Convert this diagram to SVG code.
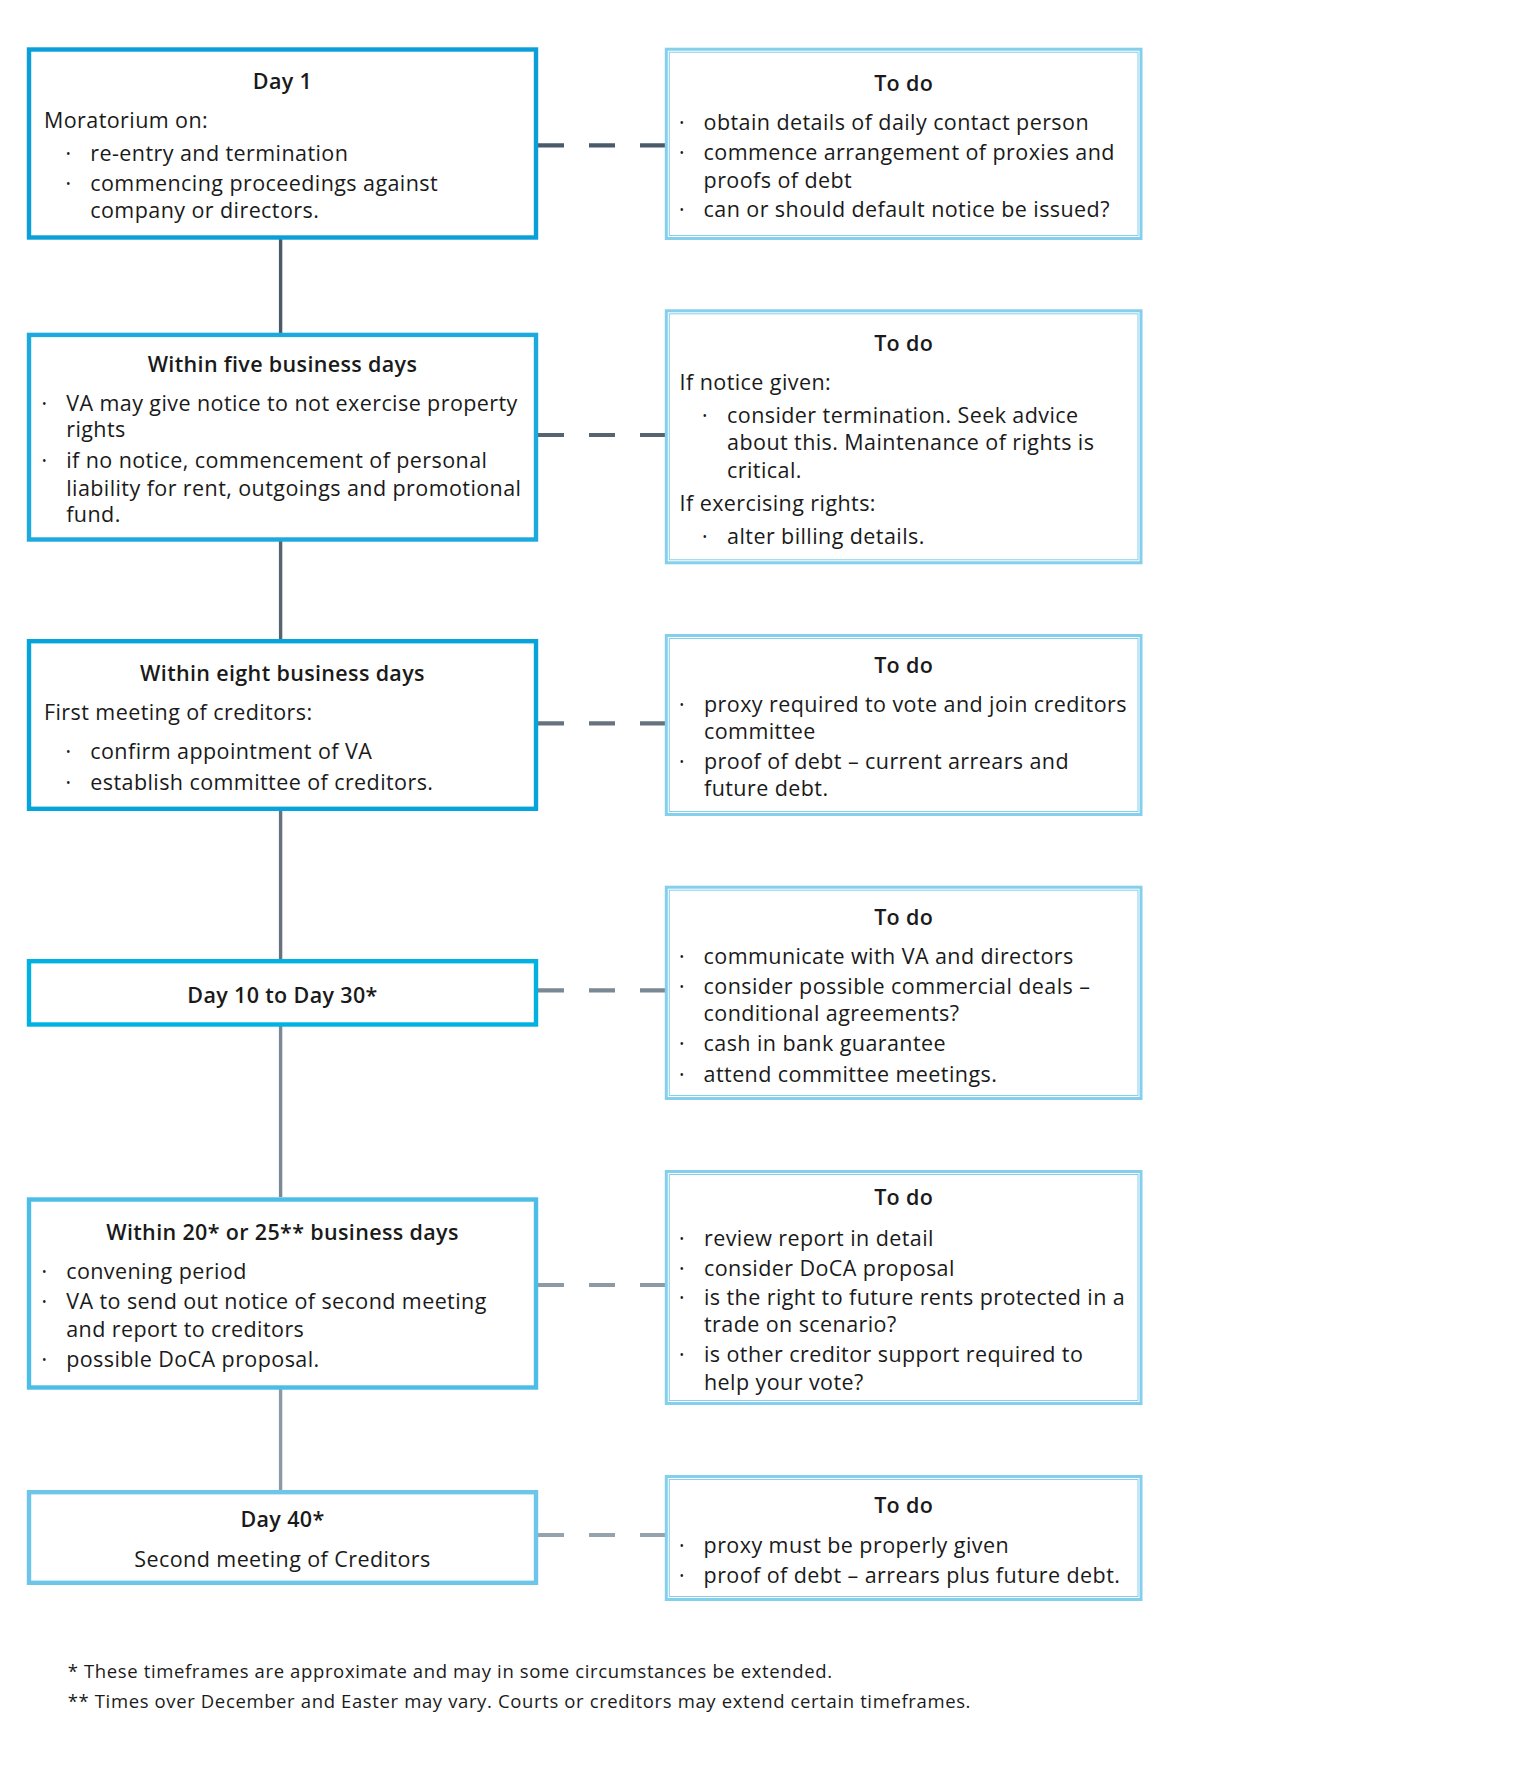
<svg xmlns="http://www.w3.org/2000/svg" width="1535" height="1772" viewBox="0 0 1535 1772">
<style>
text{font-family:"Open Sans","Liberation Sans",sans-serif;fill:#1a1a1a;font-size:21.5px;letter-spacing:0.42px}
.t{font-weight:600;text-anchor:middle;letter-spacing:0.35px}
.b{font-size:12px;letter-spacing:0}
.fn{font-size:18.5px;letter-spacing:0.63px}
.todo-o{fill:#fff;stroke:#84cfec;stroke-width:3}
.todo-i{fill:none;stroke:#84cfec;stroke-width:1}
.vl{stroke-width:3.4;fill:none}
.dl{stroke-width:4.2;stroke-dasharray:26 25;fill:none}
</style>
<rect width="1535" height="1772" fill="#fff"/>
<g id="connectors">
<line class="vl" x1="280.6" y1="239" x2="280.6" y2="333" stroke="#4a5a68"/>
<line class="vl" x1="280.6" y1="541" x2="280.6" y2="639" stroke="#56646f"/>
<line class="vl" x1="280.6" y1="811" x2="280.6" y2="959" stroke="#66737e"/>
<line class="vl" x1="280.6" y1="1026" x2="280.6" y2="1197" stroke="#7b8994"/>
<line class="vl" x1="280.6" y1="1389" x2="280.6" y2="1490" stroke="#8c9aa5"/>
<line class="dl" x1="538" y1="145.3" x2="665" y2="145.3" stroke="#4a5a68"/>
<line class="dl" x1="538" y1="435" x2="665" y2="435" stroke="#56646f"/>
<line class="dl" x1="538" y1="723.3" x2="665" y2="723.3" stroke="#66737e"/>
<line class="dl" x1="538" y1="990.3" x2="665" y2="990.3" stroke="#7b8994"/>
<line class="dl" x1="538" y1="1285" x2="665" y2="1285" stroke="#8c9aa5"/>
<line class="dl" x1="538" y1="1535" x2="665" y2="1535" stroke="#95a3ae"/>
</g>
<g id="day1">
<rect x="29" y="49.5" width="507" height="188" fill="#fff" stroke="#0a9fd8" stroke-width="4.4"/>
<text class="t" x="282.5" y="89">Day 1</text>
<text x="44" y="127.7">Moratorium on:</text>
<text class="b" x="66" y="158">•</text><text x="90.3" y="161">re-entry and termination</text>
<text class="b" x="66" y="188">•</text><text x="90.3" y="190.7">commencing proceedings against</text>
<text x="90.3" y="218.3">company or directors.</text>
</g>
<g id="todo1">
<rect class="todo-o" x="666.3" y="49.2" width="474.7" height="189.3"/>
<rect class="todo-i" x="669.3" y="52.2" width="468.7" height="183.3"/>
<text class="t" x="903.7" y="90.7">To do</text>
<text class="b" x="679.5" y="127">•</text><text x="703.6" y="130">obtain details of daily contact person</text>
<text class="b" x="679.5" y="157">•</text><text x="703.6" y="160">commence arrangement of proxies and</text>
<text x="703.6" y="187.7">proofs of debt</text>
<text class="b" x="679.5" y="214.3">•</text><text x="703.6" y="217.3">can or should default notice be issued?</text>
</g>
<g id="five-days">
<rect x="29" y="334.9" width="507" height="204.6" fill="#fff" stroke="#1ba9de" stroke-width="4.4"/>
<text class="t" x="282.5" y="371.7">Within five business days</text>
<text class="b" x="42" y="408">•</text><text x="66.2" y="411">VA may give notice to not exercise property</text>
<text x="66.2" y="437.3">rights</text>
<text class="b" x="42" y="464.7">•</text><text x="66.2" y="467.7">if no notice, commencement of personal</text>
<text x="66.2" y="496">liability for rent, outgoings and promotional</text>
<text x="66.2" y="522.3">fund.</text>
</g>
<g id="todo2">
<rect class="todo-o" x="666.3" y="310.8" width="474.7" height="252"/>
<rect class="todo-i" x="669.3" y="313.8" width="468.7" height="246"/>
<text class="t" x="903.7" y="350.7">To do</text>
<text x="679.6" y="390">If notice given:</text>
<text class="b" x="702.5" y="420.3">•</text><text x="727.1" y="423.3">consider termination. Seek advice</text>
<text x="727.1" y="450">about this. Maintenance of rights is</text>
<text x="727.1" y="477.7">critical.</text>
<text x="679.6" y="510.7">If exercising rights:</text>
<text class="b" x="702.5" y="541.3">•</text><text x="727.1" y="544.3">alter billing details.</text>
</g>
<g id="eight-days">
<rect x="29" y="641.2" width="507" height="167.6" fill="#fff" stroke="#06a4db" stroke-width="4.4"/>
<text class="t" x="282.5" y="681">Within eight business days</text>
<text x="44" y="720">First meeting of creditors:</text>
<text class="b" x="66" y="756">•</text><text x="90.3" y="759">confirm appointment of VA</text>
<text class="b" x="66" y="787">•</text><text x="90.3" y="790">establish committee of creditors.</text>
</g>
<g id="todo3">
<rect class="todo-o" x="666.3" y="635.5" width="474.7" height="179"/>
<rect class="todo-i" x="669.3" y="638.5" width="468.7" height="173"/>
<text class="t" x="903.7" y="672.7">To do</text>
<text class="b" x="679.5" y="708.7">•</text><text x="704" y="711.7">proxy required to vote and join creditors</text>
<text x="704" y="739.3">committee</text>
<text class="b" x="679.5" y="766.3">•</text><text x="704" y="769.3">proof of debt – current arrears and</text>
<text x="704" y="796">future debt.</text>
</g>
<g id="day10-30">
<rect x="29" y="961.2" width="507" height="63.3" fill="#fff" stroke="#00b1e2" stroke-width="4.4"/>
<text class="t" x="282.5" y="1003.3">Day 10 to Day 30*</text>
</g>
<g id="todo4">
<rect class="todo-o" x="666.3" y="887.2" width="474.7" height="211.3"/>
<rect class="todo-i" x="669.3" y="890.2" width="468.7" height="205.3"/>
<text class="t" x="903.7" y="925">To do</text>
<text class="b" x="679.5" y="961.3">•</text><text x="703.6" y="964.3">communicate with VA and directors</text>
<text class="b" x="679.5" y="991">•</text><text x="703.6" y="994">consider possible commercial deals –</text>
<text x="703.6" y="1020.7">conditional agreements?</text>
<text class="b" x="679.5" y="1048">•</text><text x="703.6" y="1051">cash in bank guarantee</text>
<text class="b" x="679.5" y="1078.7">•</text><text x="703.6" y="1081.7">attend committee meetings.</text>
</g>
<g id="twenty-days">
<rect x="29" y="1199.5" width="507" height="188" fill="#fff" stroke="#4bbde6" stroke-width="4.4"/>
<text class="t" x="282.5" y="1240">Within 20* or 25** business days</text>
<text class="b" x="42" y="1276.3">•</text><text x="66.2" y="1279.3">convening period</text>
<text class="b" x="42" y="1306.3">•</text><text x="66.2" y="1309.3">VA to send out notice of second meeting</text>
<text x="66.2" y="1337.3">and report to creditors</text>
<text class="b" x="42" y="1364.3">•</text><text x="66.2" y="1367.3">possible DoCA proposal.</text>
</g>
<g id="todo5">
<rect class="todo-o" x="666.3" y="1171.5" width="474.7" height="232"/>
<rect class="todo-i" x="669.3" y="1174.5" width="468.7" height="226"/>
<text class="t" x="903.7" y="1205">To do</text>
<text class="b" x="679.5" y="1242.7">•</text><text x="704" y="1245.7">review report in detail</text>
<text class="b" x="679.5" y="1272.7">•</text><text x="704" y="1275.7">consider DoCA proposal</text>
<text class="b" x="679.5" y="1302.3">•</text><text x="704" y="1305.3">is the right to future rents protected in a</text>
<text x="704" y="1332.3">trade on scenario?</text>
<text class="b" x="679.5" y="1359.3">•</text><text x="704" y="1362.3">is other creditor support required to</text>
<text x="704" y="1390">help your vote?</text>
</g>
<g id="day40">
<rect x="29" y="1492.2" width="507" height="90.6" fill="#fff" stroke="#6ec5ea" stroke-width="4.4"/>
<text class="t" x="282.5" y="1527.3">Day 40*</text>
<text x="282.5" y="1566.7" text-anchor="middle">Second meeting of Creditors</text>
</g>
<g id="todo6">
<rect class="todo-o" x="666.3" y="1476.5" width="474.7" height="123"/>
<rect class="todo-i" x="669.3" y="1479.5" width="468.7" height="117"/>
<text class="t" x="903.7" y="1513.3">To do</text>
<text class="b" x="679.5" y="1550.3">•</text><text x="703.6" y="1553.3">proxy must be properly given</text>
<text class="b" x="679.5" y="1579.7">•</text><text x="703.6" y="1582.7">proof of debt – arrears plus future debt.</text>
</g>
<g id="footnotes">
<text class="fn" x="67.7" y="1677.7">* These timeframes are approximate and may in some circumstances be extended.</text>
<text class="fn" x="67.7" y="1708.3">** Times over December and Easter may vary. Courts or creditors may extend certain timeframes.</text>
</g>
</svg>
